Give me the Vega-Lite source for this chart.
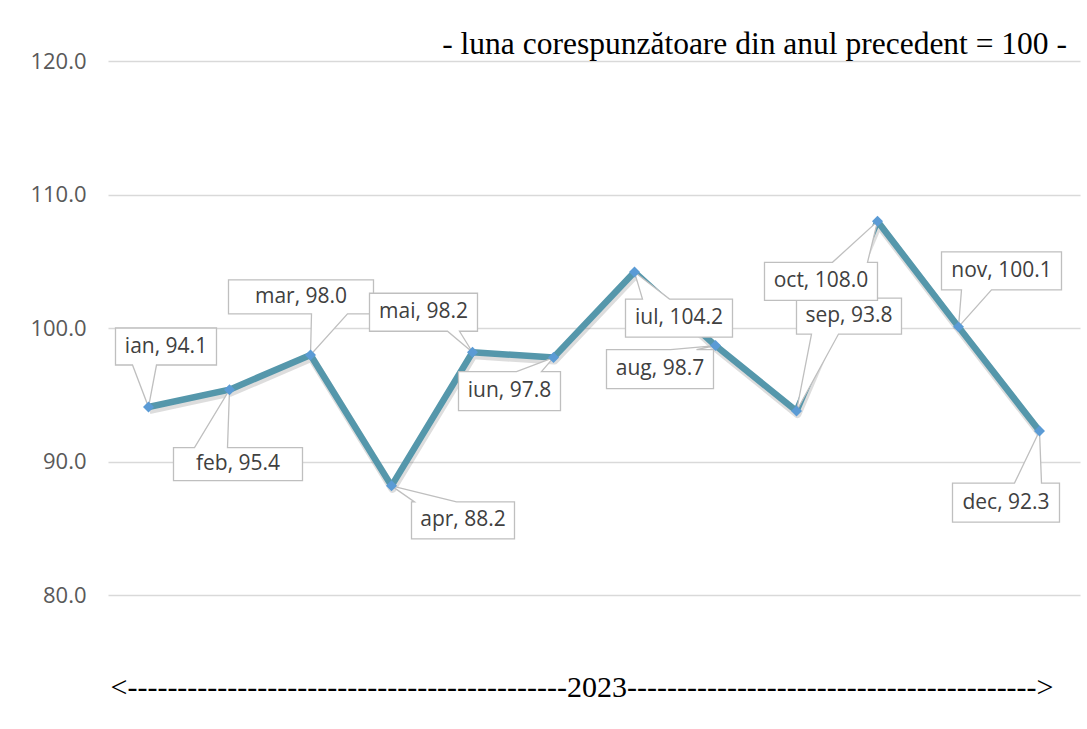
{
  "$schema": "https://vega.github.io/schema/vega-lite/v6.json",
  "width": 972,
  "height": 668,
  "autosize": {"type": "none"},
  "padding": {"left": 108, "top": 61, "right": 7, "bottom": 0},
  "background": "white",
  "config": {"view": {"stroke": null}, "font": "Open Sans"},
  "title": {
    "text": "- luna corespunzătoare din anul precedent = 100 -",
    "anchor": "end",
    "frame": "group",
    "font": "Liberation Serif",
    "fontSize": 31.5,
    "fontWeight": "normal",
    "color": "#000000",
    "baseline": "alphabetic",
    "offset": 10,
    "dy": 45,
    "dx": -13
  },
  "data": {
    "values": [
      {"m": "ian", "v": 94.1, "label": "ian, 94.1"},
      {"m": "feb", "v": 95.4, "label": "feb, 95.4"},
      {"m": "mar", "v": 98.0, "label": "mar, 98.0"},
      {"m": "apr", "v": 88.2, "label": "apr, 88.2"},
      {"m": "mai", "v": 98.2, "label": "mai, 98.2"},
      {"m": "iun", "v": 97.8, "label": "iun, 97.8"},
      {"m": "iul", "v": 104.2, "label": "iul, 104.2"},
      {"m": "aug", "v": 98.7, "label": "aug, 98.7"},
      {"m": "sep", "v": 93.8, "label": "sep, 93.8"},
      {"m": "oct", "v": 108.0, "label": "oct, 108.0"},
      {"m": "nov", "v": 100.1, "label": "nov, 100.1"},
      {"m": "dec", "v": 92.3, "label": "dec, 92.3"}
    ]
  },
  "encoding": {
    "x": {
      "field": "m",
      "type": "ordinal",
      "sort": null,
      "scale": {"type": "point", "padding": 0.5},
      "axis": {
        "labels": false,
        "ticks": false,
        "domain": false,
        "grid": false,
        "title": "<--------------------------------------------2023----------------------------------------->",
        "titleFont": "Liberation Serif",
        "titleFontSize": 30,
        "titleFontWeight": "normal",
        "titleColor": "#000000",
        "titleAlign": "left",
        "titleAnchor": null,
        "titleX": 2,
        "titleY": -33,
        "titleBaseline": "alphabetic"
      }
    },
    "y": {
      "field": "v",
      "type": "quantitative",
      "scale": {"domain": [70, 120], "nice": false, "zero": false},
      "axis": {
        "values": [80, 90, 100, 110, 120],
        "format": ".1f",
        "title": null,
        "domain": false,
        "ticks": false,
        "labelPadding": 22,
        "labelFont": "Open Sans",
        "labelFontSize": 22,
        "labelColor": "#595959",
        "gridColor": "#d9d9d9",
        "gridWidth": 1.5
      }
    }
  },
  "layer": [
    {
      "mark": {"type": "line", "color": "#444444", "opacity": 0.18, "strokeWidth": 8, "xOffset": 1, "yOffset": 3, "strokeJoin": "round"}
    },
    {
      "mark": {"type": "line", "color": "#5597ab", "strokeWidth": 6.5, "strokeJoin": "round", "strokeCap": "round"}
    },
    {
      "mark": {"type": "point", "filled": true, "fill": "#ffffff", "stroke": "#bfbfbf", "strokeWidth": 1.3, "size": 4, "opacity": 1},
      "encoding": {
        "shape": {
          "field": "m",
          "type": "nominal",
          "legend": null,
          "scale": {
            "domain": ["ian", "feb", "mar", "apr", "mai", "iun", "iul", "aug", "sep", "oct", "nov", "dec"],
            "range": [
              "M-33,-79H68V-42H8L0,0L-16,-42H-33Z",
              "M-56,58H-35L0,0L-2,58H73V91H-56Z",
              "M-82,-75H63V-41H37L0,0L1,-41H-82Z",
              "M20,16H23L0,0L65,16H123V53H20Z",
              "M-103,-59H5V-21H-13L0,0L-25,-21H-103Z",
              "M-95,14H-37L0,0L-12,14H7V53H-95Z",
              "M-9,27H8L0,0L35,27H98V65H-9Z",
              "M-109,4H-45L0,0L-19,4H-2V43H-109Z",
              "M0,-113H105V-77H42L0,0L15,-77H0Z",
              "M-113,41H-45L0,0L-10,41H0V79H-113Z",
              "M-17,-75H103V-37H33L0,0L3,-37H-17Z",
              "M-87,52H-25L0,0L2,52H20V91H-87Z"
            ]
          }
        }
      }
    },
    {
      "mark": {"type": "point", "shape": "diamond", "filled": true, "color": "#5b9bd5", "size": 120, "opacity": 1}
    },
    {
      "encoding": {"text": {"field": "label", "type": "nominal"}},
      "layer": [
        {"transform": [{"filter": "datum.m === 'ian'"}], "mark": {"type": "text", "dx": 17.5, "dy": -60.5, "fontSize": 21, "color": "#404040", "baseline": "middle", "align": "center"}},
        {"transform": [{"filter": "datum.m === 'feb'"}], "mark": {"type": "text", "dx": 8.5, "dy": 74.5, "fontSize": 21, "color": "#404040", "baseline": "middle", "align": "center"}},
        {"transform": [{"filter": "datum.m === 'mar'"}], "mark": {"type": "text", "dx": -9.5, "dy": -58, "fontSize": 21, "color": "#404040", "baseline": "middle", "align": "center"}},
        {"transform": [{"filter": "datum.m === 'apr'"}], "mark": {"type": "text", "dx": 71.5, "dy": 34.5, "fontSize": 21, "color": "#404040", "baseline": "middle", "align": "center"}},
        {"transform": [{"filter": "datum.m === 'mai'"}], "mark": {"type": "text", "dx": -49, "dy": -40, "fontSize": 21, "color": "#404040", "baseline": "middle", "align": "center"}},
        {"transform": [{"filter": "datum.m === 'iun'"}], "mark": {"type": "text", "dx": -44, "dy": 33.5, "fontSize": 21, "color": "#404040", "baseline": "middle", "align": "center"}},
        {"transform": [{"filter": "datum.m === 'iul'"}], "mark": {"type": "text", "dx": 44.5, "dy": 46, "fontSize": 21, "color": "#404040", "baseline": "middle", "align": "center"}},
        {"transform": [{"filter": "datum.m === 'aug'"}], "mark": {"type": "text", "dx": -55.5, "dy": 23.5, "fontSize": 21, "color": "#404040", "baseline": "middle", "align": "center"}},
        {"transform": [{"filter": "datum.m === 'sep'"}], "mark": {"type": "text", "dx": 52.5, "dy": -95, "fontSize": 21, "color": "#404040", "baseline": "middle", "align": "center"}},
        {"transform": [{"filter": "datum.m === 'oct'"}], "mark": {"type": "text", "dx": -56.5, "dy": 60, "fontSize": 21, "color": "#404040", "baseline": "middle", "align": "center"}},
        {"transform": [{"filter": "datum.m === 'nov'"}], "mark": {"type": "text", "dx": 43, "dy": -56, "fontSize": 21, "color": "#404040", "baseline": "middle", "align": "center"}},
        {"transform": [{"filter": "datum.m === 'dec'"}], "mark": {"type": "text", "dx": -33.5, "dy": 71.5, "fontSize": 21, "color": "#404040", "baseline": "middle", "align": "center"}}
      ]
    }
  ]
}
